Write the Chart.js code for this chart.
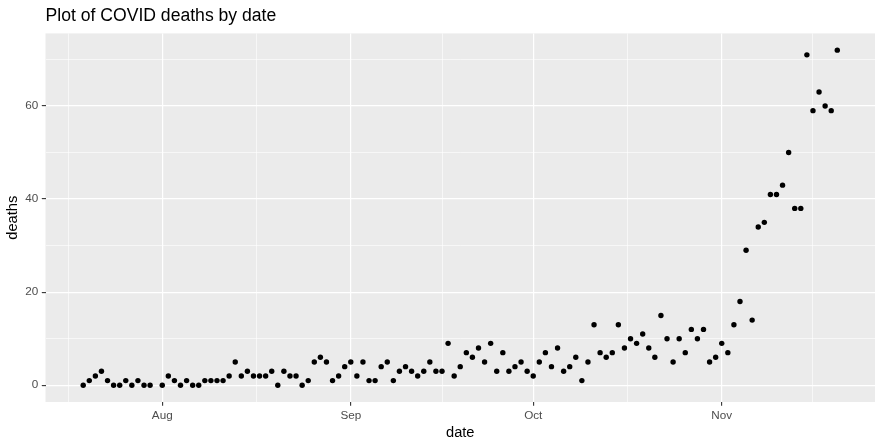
<!DOCTYPE html>
<html><head><meta charset="utf-8">
<script src="https://cdn.jsdelivr.net/npm/chart.js@4.4.0/dist/chart.umd.min.js"></script>
<style>html,body{margin:0;padding:0;background:#fff;}#wrap{width:882px;height:447px;}</style>
</head><body><div id="wrap"><canvas id="c" width="882" height="447"></canvas></div>
<script>
const dates = [
'2020-07-19','2020-07-20','2020-07-21','2020-07-22','2020-07-23','2020-07-24','2020-07-25','2020-07-26','2020-07-27','2020-07-28','2020-07-29','2020-07-30',
'2020-08-01','2020-08-02','2020-08-03','2020-08-04','2020-08-05','2020-08-06','2020-08-07','2020-08-08','2020-08-09','2020-08-10','2020-08-11','2020-08-12','2020-08-13','2020-08-14','2020-08-15','2020-08-16','2020-08-17','2020-08-18','2020-08-19','2020-08-20','2020-08-21','2020-08-22','2020-08-23','2020-08-24','2020-08-25','2020-08-26','2020-08-27','2020-08-28','2020-08-29','2020-08-30','2020-08-31',
'2020-09-01','2020-09-02','2020-09-03','2020-09-04','2020-09-05','2020-09-06','2020-09-07','2020-09-08','2020-09-09','2020-09-10','2020-09-11','2020-09-12','2020-09-13','2020-09-14','2020-09-15','2020-09-16','2020-09-17','2020-09-18','2020-09-19','2020-09-20','2020-09-21','2020-09-22','2020-09-23','2020-09-24','2020-09-25','2020-09-26','2020-09-27','2020-09-28','2020-09-29','2020-09-30',
'2020-10-01','2020-10-02','2020-10-03','2020-10-04','2020-10-05','2020-10-06','2020-10-07','2020-10-08','2020-10-09','2020-10-10','2020-10-11','2020-10-12','2020-10-13','2020-10-14','2020-10-15','2020-10-16','2020-10-17','2020-10-18','2020-10-19','2020-10-20','2020-10-21','2020-10-22','2020-10-23','2020-10-24','2020-10-25','2020-10-26','2020-10-27','2020-10-28','2020-10-29','2020-10-30','2020-10-31',
'2020-11-01','2020-11-02','2020-11-03','2020-11-04','2020-11-05','2020-11-06','2020-11-07','2020-11-08','2020-11-09','2020-11-10','2020-11-11','2020-11-12','2020-11-13','2020-11-14','2020-11-15','2020-11-16','2020-11-17','2020-11-18','2020-11-19','2020-11-20'
];
const deaths = [
0,1,2,3,1,0,0,1,0,1,0,0,
0,2,1,0,1,0,0,1,1,1,1,2,5,2,3,2,2,2,3,0,3,2,2,0,1,5,6,5,1,2,4,
5,2,5,1,1,4,5,1,3,4,3,2,3,5,3,3,9,2,4,7,6,8,5,9,3,7,3,4,5,3,
2,5,7,4,8,3,4,6,1,5,13,7,6,7,13,8,10,9,11,8,6,15,10,5,10,7,12,10,12,5,6,
9,7,13,18,29,14,34,35,41,41,43,50,38,38,71,59,63,60,59,72
];
const xTickDates = ['2020-08-01','2020-09-01','2020-10-01','2020-11-01'];
const xTickLabels = ['Aug','Sep','Oct','Nov'];
const xMinorDates = ['2020-07-16T12:00:00Z','2020-08-16T12:00:00Z','2020-09-16T00:00:00Z','2020-10-16T12:00:00Z','2020-11-16T00:00:00Z'];
const yTicks = [0,20,40,60];
const yMinorTicks = [10,30,50,70];

const DAY = 86400000;
const parseD = s => Date.parse(s.length === 10 ? s + 'T00:00:00Z' : s);
const t0 = parseD(dates[0]);
const toDay = s => (parseD(s) - t0) / DAY;
const pts = dates.map((d, i) => ({x: toDay(d), y: deaths[i]}));
const xs = pts.map(p => p.x), ysv = deaths;
const xLo = Math.min(...xs), xHi = Math.max(...xs);
const yLo = Math.min(...ysv), yHi = Math.max(...ysv);
const xPad = (xHi - xLo) * 0.05, yPad = (yHi - yLo) * 0.05;

const xMajor = xTickDates.map(toDay);
const xMinor = xMinorDates.map(toDay);

const FONT = "'Liberation Sans', Arial, Helvetica, sans-serif";
Chart.defaults.font.family = FONT;

function buildTicks(major, minor, labels) {
  const arr = major.map((v, i) => ({value: v, isMajor: true, lab: labels[i]}))
    .concat(minor.map(v => ({value: v, isMajor: false, lab: ''})));
  arr.sort((a, b) => a.value - b.value);
  return arr;
}

const panelBg = {
  id: 'panelBg',
  beforeDraw(chart) {
    const {ctx, chartArea: a} = chart;
    ctx.save();
    ctx.fillStyle = '#ffffff';
    ctx.fillRect(0, 0, chart.width, chart.height);
    ctx.fillStyle = '#EBEBEB';
    ctx.fillRect(a.left, a.top, a.right - a.left, a.bottom - a.top);
    ctx.restore();
  }
};
const titleAlign = {
  id: 'titleAlign',
  afterLayout(chart) {
    if (chart.titleBlock) chart.titleBlock.left = chart.chartArea.left;
  }
};

const gridW = ctx => (ctx.tick && ctx.tick.isMajor) ? 1.2 : 0.6;
const tickC = ctx => (ctx.tick && ctx.tick.isMajor) ? '#333333' : 'rgba(0,0,0,0)';

new Chart(document.getElementById('c'), {
  type: 'scatter',
  data: {datasets: [{
    data: pts,
    backgroundColor: '#000000',
    borderWidth: 0,
    pointRadius: 2.7,
    pointHoverRadius: 2.7
  }]},
  plugins: [panelBg, titleAlign],
  options: {
    responsive: false,
    animation: false,
    devicePixelRatio: 1,
    layout: {padding: {left: 0, right: 7, top: 0, bottom: 0}},
    plugins: {
      legend: {display: false},
      tooltip: {enabled: false},
      title: {
        display: true, text: 'Plot of COVID deaths by date', align: 'start', color: '#000000',
        font: {family: FONT, size: 17.6, weight: 'normal'},
        padding: {top: 5.3, bottom: 7}
      }
    },
    scales: {
      x: {
        type: 'linear', min: xLo - xPad, max: xHi + xPad,
        afterBuildTicks: s => { s.ticks = buildTicks(xMajor, xMinor, xTickLabels); },
        afterFit: s => { s.height = 45; },
        ticks: {
          autoSkip: false, maxRotation: 0, minRotation: 0, padding: 3.2, color: '#4D4D4D',
          font: {size: 11.7},
          callback: function(v, i, ticks) { return ticks[i].lab; }
        },
        grid: {color: '#ffffff', lineWidth: gridW, tickColor: tickC, tickLength: 3.7, tickWidth: 1.1, drawTicks: true},
        border: {display: false},
        title: {display: true, text: 'date', color: '#000000', font: {size: 14.67}, padding: {top: 0, bottom: 5.6}}
      },
      y: {
        type: 'linear', min: yLo - yPad, max: yHi + yPad,
        afterBuildTicks: s => { s.ticks = buildTicks(yTicks, yMinorTicks, yTicks.map(String)); },
        afterFit: s => { s.width = 45.5; },
        ticks: {
          autoSkip: false, padding: 3.5, color: '#4D4D4D',
          font: {size: 11.7},
          callback: function(v, i, ticks) { return ticks[i].lab; }
        },
        grid: {color: '#ffffff', lineWidth: gridW, tickColor: tickC, tickLength: 3.7, tickWidth: 1.1, drawTicks: true},
        border: {display: false},
        title: {display: true, text: 'deaths', color: '#000000', font: {size: 14.67}, padding: {top: 4.4, bottom: 0}}
      }
    }
  }
});
</script>
</body></html>
